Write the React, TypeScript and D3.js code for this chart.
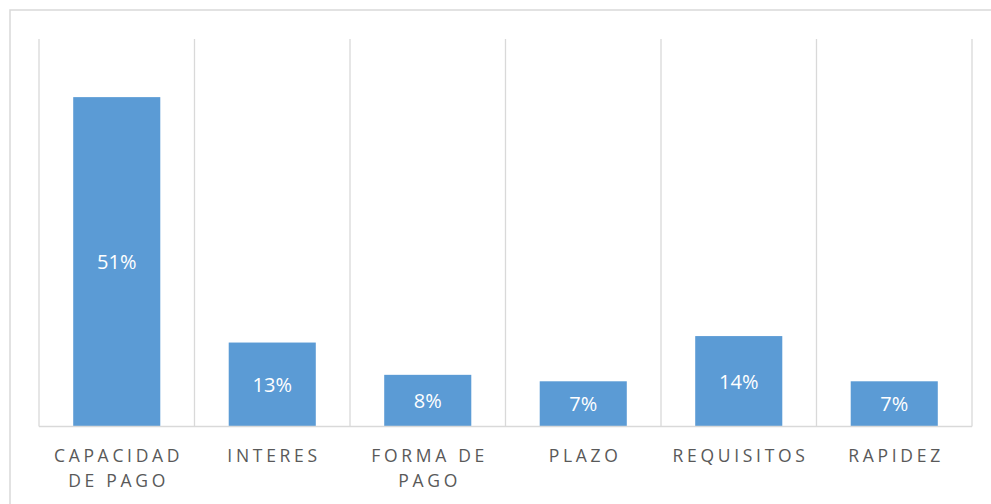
import React from "react";
import * as d3 from "d3";

const categories = ["CAPACIDAD DE PAGO", "INTERES", "FORMA DE PAGO", "PLAZO", "REQUISITOS", "RAPIDEZ"];
const categoryLines = [["CAPACIDAD", "DE PAGO"], ["INTERES"], ["FORMA DE", "PAGO"], ["PLAZO"], ["REQUISITOS"], ["RAPIDEZ"]];
const values = [0.51, 0.13, 0.08, 0.07, 0.14, 0.07];
const yMax = 0.6;

const W = 991;
const H = 504;
const plot = { left: 39, right: 972, top: 39, bottom: 426.5 };

export default function App() {
  const x = d3.scaleBand<string>().domain(categories).range([plot.left, plot.right]).paddingInner(0.44).paddingOuter(0.22);
  const xOuter = d3.scaleBand<string>().domain(categories).range([plot.left, plot.right]);
  const y = d3.scaleLinear().domain([0, yMax]).range([plot.bottom, plot.top]);
  const fmt = d3.format(".0%");
  const ls = 3.7;
  const gridXs = categories.map((c) => xOuter(c)!).concat([plot.right]);

  return (
    <svg width={W} height={H} style={{ position: "absolute", left: 0, top: 0, background: "#fff" }}>
      <rect x={10} y={10} width={W} height={H} fill="#fff" stroke="#d9d9d9" strokeWidth={1.5} />
      {gridXs.map((gx, i) => (
        <line key={i} x1={gx} x2={gx} y1={plot.top} y2={plot.bottom} stroke="#d9d9d9" strokeWidth={1.3} />
      ))}
      {categories.map((c, i) => {
        const bx = x(c)!;
        const bw = x.bandwidth();
        const top = y(values[i]);
        return (
          <g key={c}>
            <rect x={bx} y={top} width={bw} height={plot.bottom - top} fill="#5b9bd5" />
            <text
              x={bx + bw / 2}
              y={(top + plot.bottom) / 2 + 7.5}
              textAnchor="middle"
              fill="#fff"
              fontFamily="'Open Sans', sans-serif"
              fontSize={20}
            >
              {fmt(values[i])}
            </text>
          </g>
        );
      })}
      <line x1={plot.left} x2={plot.right} y1={plot.bottom} y2={plot.bottom} stroke="#d9d9d9" strokeWidth={1.5} />
      {categories.map((c, i) => (
        <text
          key={c}
          textAnchor="middle"
          fill="#595959"
          fontFamily="'Open Sans', sans-serif"
          fontSize={17.5}
          letterSpacing={ls}
        >
          {categoryLines[i].map((line, j) => (
            <tspan key={j} x={xOuter(c)! + xOuter.bandwidth() / 2 + ls / 2} y={461.5 + j * 25.5}>
              {line}
            </tspan>
          ))}
        </text>
      ))}
    </svg>
  );
}
